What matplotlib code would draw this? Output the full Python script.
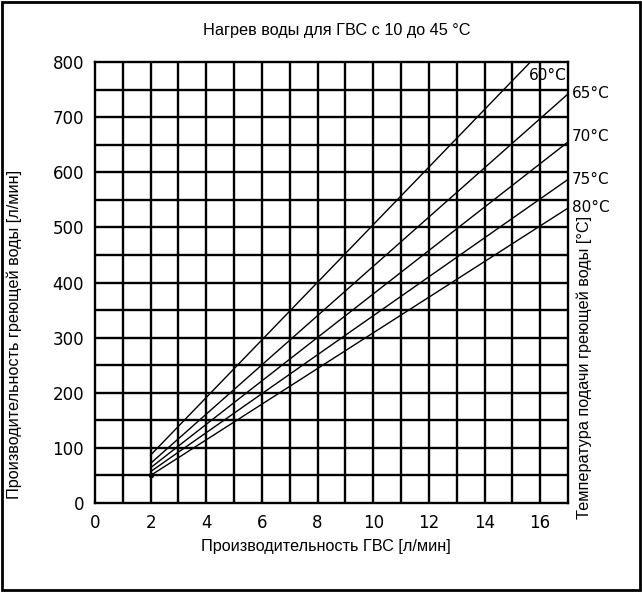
import matplotlib
matplotlib.use('Agg')
import matplotlib.pyplot as plt
from matplotlib.patches import Rectangle

# heating water supply temperatures and their lines (start at 2 l/min)
temps = ['60°C', '65°C', '70°C', '75°C', '80°C']
x_start = [2, 2, 2, 2, 2]
y_start = [87, 72, 64, 57, 50]
x_end = [15.65, 17, 17, 17, 17]
y_end = [800, 742, 655, 587, 535]

x_ticks = [0, 2, 4, 6, 8, 10, 12, 14, 16]
y_ticks = [0, 100, 200, 300, 400, 500, 600, 700, 800]

fig = plt.figure(figsize=(6.42, 5.92), dpi=100)
ax = fig.add_axes([95 / 642, 1 - 503 / 592, 473 / 642, 441 / 592])

# grid: every 1 l/min and every 50 l/min
for gx in range(1, 17):
    ax.axvline(gx, color='black', lw=1.7, zorder=1)
for gy in range(50, 800, 50):
    ax.axhline(gy, color='black', lw=1.7, zorder=1)

for i in range(len(temps)):
    ax.plot([x_start[i], x_end[i]], [y_start[i], y_end[i]], color='black', lw=1.0, zorder=2)
ax.plot([2], [50], 'o', color='black', ms=3, zorder=3)

ax.set_xlim(0, 17)
ax.set_ylim(0, 800)
ax.set_xticks(x_ticks)
ax.set_yticks(y_ticks)
ax.tick_params(length=0, labelsize=12, pad=8)
for s in ax.spines.values():
    s.set_linewidth(1.7)

# temperature labels
ax.text(16.95, 790, temps[0], ha='right', va='top', fontsize=11)
lab_y = [93, 137, 180, 208]
for t, yy in zip(temps[1:], lab_y):
    fig.text(572 / 642, 1 - yy / 592, t, ha='left', va='center', fontsize=11)

fig.text(337 / 642, 1 - 30 / 592, 'Нагрев воды для ГВС с 10 до 45 °C',
         ha='center', va='center', fontsize=11.7, family='Liberation Sans')
fig.text(326 / 642, 1 - 547 / 592, 'Производительность ГВС [л/мин]',
         ha='center', va='center', fontsize=11.7, family='Liberation Sans')
fig.text(14 / 642, 1 - 334 / 592, 'Производительность греющей воды [л/мин]',
         ha='center', va='center', rotation=90, fontsize=11.7, family='Liberation Sans')
fig.text(584 / 642, 1 - 367 / 592, 'Температура подачи греющей воды [°C]',
         ha='center', va='center', rotation=90, fontsize=11.7, family='Liberation Sans')

fig.add_artist(Rectangle((0.003, 0.003), 0.994, 0.994, transform=fig.transFigure,
                         fill=False, edgecolor='black', lw=2))

fig.savefig('out.png', dpi=100)
